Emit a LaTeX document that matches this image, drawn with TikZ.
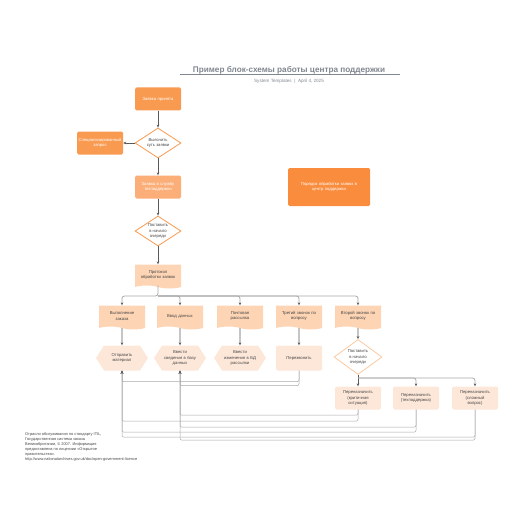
\documentclass[tikz,border=0pt]{standalone}
\usepackage{fontspec}
\setmainfont{Liberation Sans}
\usetikzlibrary{positioning,arrows.meta,shapes.geometric,shapes.symbols}
\definecolor{ordark}{HTML}{F99A51}
\definecolor{orsat}{HTML}{FA8C3D}
\definecolor{ormid}{HTML}{FBAE78}
\definecolor{orlight}{HTML}{FDD4B4}
\definecolor{orpale}{HTML}{FDE7D9}
\definecolor{orline}{HTML}{FBC9A3}
\definecolor{linedark}{HTML}{5A5A5A}
\definecolor{linelight}{HTML}{A8A8A8}
\definecolor{txt}{HTML}{454545}
\definecolor{titlegray}{HTML}{80868F}

\begin{document}
\begin{tikzpicture}[x=1pt,y=-1pt,
    every node/.style={font=\fontsize{4.2}{5.2}\selectfont,align=center,inner sep=1pt},
    box/.style={rectangle,rounded corners=1.5pt,fill=ordark,text=white,minimum width=46pt,minimum height=23pt,text width=44pt},
    midbox/.style={box,fill=ormid},
    lightbox/.style={box,fill=orpale,text=txt,minimum height=25pt},
    decision/.style={diamond,shape aspect=1.6,draw=ordark,line width=0.8pt,fill=white,text=txt,minimum width=46pt,minimum height=30pt,inner sep=0pt},
    docbox/.style={tape,tape bend top=none,tape bend bottom=out and in,tape bend height=3pt,fill=orlight,text=txt,minimum width=46pt,minimum height=24pt,text width=42pt},
    hexbox/.style={signal,signal to=east and west,signal pointer angle=115,fill=orpale,text=txt,minimum width=46pt,minimum height=25pt,text width=34pt},
    arrow/.style={-{Stealth[length=3pt,width=2.6pt]},draw=linedark,line width=0.6pt},
    branch/.style={-{Stealth[length=3pt,width=2.6pt,color=linedark]},draw=linelight,line width=0.8pt,rounded corners=2.5pt},
    back/.style={-{Stealth[length=3pt,width=2.6pt,color=linedark]},draw=linelight,line width=0.5pt,rounded corners=2pt}]

\useasboundingbox (0,0) rectangle (516,516);

% Заголовок
\node[font=\fontsize{8.2}{9}\selectfont\bfseries,text=titlegray] (title) at (289,70) {Пример блок-схемы работы центра поддержки};
\draw[titlegray,line width=0.5pt] (180,74.5) -- (400,74.5);
\node[font=\fontsize{4.6}{5}\selectfont,text=titlegray,below=3pt of title] (sub) {System Templates \ \textbar\ \ April 4, 2025};

% Основной поток
\node[box] (accepted) at (158,99) {Заявка принята};
\node[decision] (clarify) at (158,143) {Выяснить\\суть заявки};
\node[box] (special) at (100,143) {Специализированный\\запрос};
\node[midbox] (ticket) at (158,187) {Заявка в службу\\техподдержки};
\node[decision] (queue) at (158,231) {Поставить\\в начало\\очереди};
\node[docbox] (protocol) at (158,275) {Протокол\\обработки заявок};

\node[box,fill=orsat,minimum width=82pt,minimum height=38pt,text width=74pt] (legend) at (329,187) {Порядок обработки заявок в\\центр поддержки};

\draw[arrow] (accepted) -- (clarify);
\draw[arrow] (clarify) -- (special);
\draw[arrow] (clarify) -- (ticket);
\draw[arrow] (ticket) -- (queue);
\draw[arrow] (queue) -- (protocol);

% Виды заявок
\node[docbox] (order) at (122,316) {Выполнение\\заказа};
\node[docbox] (dataentry) at (180,316) {Ввод данных};
\node[docbox] (mailing) at (240,316) {Почтовая\\рассылка};
\node[docbox] (third) at (299,316) {Третий звонок по\\вопросу};
\node[docbox] (second) at (358,316) {Второй звонок по\\вопросу};

\coordinate (split) at (158,296);
\draw[branch] (protocol.south) -- (split) -| (order.north);
\draw[branch] (split) -| (dataentry.north);
\draw[branch] (split) -| (mailing.north);
\draw[branch] (split) -| (third.north);
\draw[branch] (split) -| (second.north);

\node[hexbox] (sendmat) at (122,358) {Отправить\\материал};
\node[hexbox] (enterdb) at (180,358) {Ввести\\сведения в базу\\данных};
\node[hexbox] (enterchg) at (240,358) {Ввести\\изменения в БД\\рассылки};
\node[lightbox] (callback) at (299,358) {Перезвонить};
\node[decision,draw=orline,minimum height=35pt,minimum width=48pt] (queuetwo) at (358,357) {Поставить\\в начало\\очереди};

\draw[arrow] (order) -- (sendmat);
\draw[arrow] (dataentry) -- (enterdb);
\draw[arrow] (mailing) -- (enterchg);
\draw[arrow] (third) -- (callback);
\draw[arrow] (second) -- (queuetwo);

% Переназначение
\node[lightbox,minimum height=23pt] (crit) at (358,398) {Переназначить\\(критичная\\ситуация)};
\node[lightbox,minimum height=23pt] (tech) at (416,398) {Переназначить\\(техподдержка)};
\node[lightbox,minimum height=23pt] (hard) at (475,398) {Переназначить\\(сложный\\вопрос)};

\draw[arrow] (queuetwo) -- (crit);
\coordinate (splittwo) at (358,378);
\draw[branch] (splittwo) -| (tech.north);
\draw[branch] (splittwo) -| (hard.north);

% Возвраты
\draw[back] (callback.south) -- ++(0,11) -| (sendmat.south);
\draw[back] (callback.south) -- ++(0,15) -| (enterdb.south);
\draw[back] (crit.south) -- ++(0,5.5) -| (enterdb.south);
\draw[back] (crit.south) -- ++(0,11.5) -| (sendmat.south);
\draw[back] (tech.south) -- ++(0,17.5) -| (enterdb.south);
\draw[back] (tech.south) -- ++(0,22.5) -| (sendmat.south);
\draw[back] (hard.south) -- ++(0,27.5) -| (sendmat.south);
\draw[back] (hard.south) -- ++(0,30.5) -| (enterdb.south);

\node[anchor=north west,align=left,text=txt,font=\fontsize{3.9}{5}\selectfont] (note) at (24,431) {Отрасли обслуживания по стандарту ITIL,\\Государственная система заказа\\Великобритании, © 2007. Информация\\предоставлена по лицензии «Открытое\\правительство».\\http://www.nationalarchives.gov.uk/doc/open-government-licence};

\end{tikzpicture}
\end{document}
